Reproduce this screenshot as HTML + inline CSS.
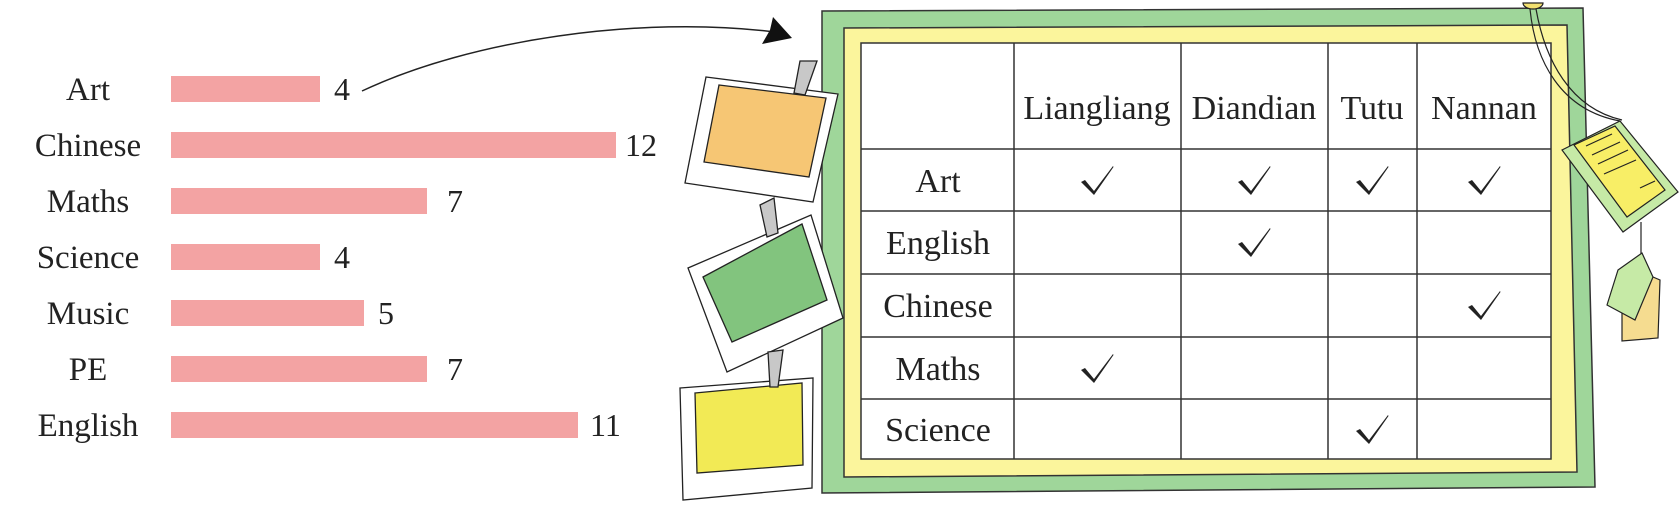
<!DOCTYPE html>
<html><head><meta charset="utf-8"><style>
html,body{margin:0;padding:0;background:#fff;}
svg{display:block;}
text{font-family:"Liberation Serif",serif;fill:#222;}
</style></head><body>
<svg width="1679" height="507" viewBox="0 0 1679 507" xmlns="http://www.w3.org/2000/svg">
<!-- bar chart -->
<g fill="#f3a3a3">
<rect x="171" y="76" width="149" height="26"/>
<rect x="171" y="132" width="445" height="26"/>
<rect x="171" y="188" width="256" height="26"/>
<rect x="171" y="244" width="149" height="26"/>
<rect x="171" y="300" width="193" height="26"/>
<rect x="171" y="356" width="256" height="26"/>
<rect x="171" y="412" width="407" height="26"/>
</g>
<g font-size="33" text-anchor="middle">
<text x="88" y="100">Art</text>
<text x="88" y="156">Chinese</text>
<text x="88" y="212">Maths</text>
<text x="88" y="268">Science</text>
<text x="88" y="324">Music</text>
<text x="88" y="380">PE</text>
<text x="88" y="436">English</text>
</g>
<g font-size="32">
<text x="334" y="100">4</text>
<text x="625" y="156">12</text>
<text x="447" y="212">7</text>
<text x="334" y="268">4</text>
<text x="378" y="324">5</text>
<text x="447" y="380">7</text>
<text x="590" y="436">11</text>
</g>
<!-- arrow -->
<path d="M362,91 C470,40 640,15 775,32" fill="none" stroke="#222" stroke-width="1.5"/>
<polygon points="792,38 762,44 770,30 773,17" fill="#111"/>
<!-- frame -->
<polygon points="822,11 1583,8 1595,487 822,493" fill="#9fd69a" stroke="#333" stroke-width="1.5"/>
<polygon points="844,28 1567,25 1577,472 844,477" fill="#fbf59c" stroke="#333" stroke-width="1.5"/>
<rect x="861" y="43" width="690" height="416" fill="#fff" stroke="#333" stroke-width="1.5"/>
<g stroke="#333" stroke-width="1.5">
<line x1="861" y1="149" x2="1551" y2="149"/>
<line x1="861" y1="211" x2="1551" y2="211"/>
<line x1="861" y1="274" x2="1551" y2="274"/>
<line x1="861" y1="337" x2="1551" y2="337"/>
<line x1="861" y1="399" x2="1551" y2="399"/>
<line x1="1014" y1="43" x2="1014" y2="459"/>
<line x1="1181" y1="43" x2="1181" y2="459"/>
<line x1="1328" y1="43" x2="1328" y2="459"/>
<line x1="1417" y1="43" x2="1417" y2="459"/>
</g>
<g font-size="34" text-anchor="middle">
<text x="1097" y="119">Liangliang</text>
<text x="1254" y="119">Diandian</text>
<text x="1372" y="119">Tutu</text>
<text x="1484" y="119">Nannan</text>
<text x="938" y="192">Art</text>
<text x="938" y="254">English</text>
<text x="938" y="317">Chinese</text>
<text x="938" y="380">Maths</text>
<text x="938" y="441">Science</text>
</g>
<defs><path id="ck" d="M-16,1 L-12,-1 L-3,10 L16,-15 L16.5,-14 L-3,14 Z" fill="#222"/></defs>
<use href="#ck" x="1097" y="181"/>
<use href="#ck" x="1254" y="181"/>
<use href="#ck" x="1372" y="181"/>
<use href="#ck" x="1484" y="181"/>
<use href="#ck" x="1254" y="243"/>
<use href="#ck" x="1484" y="306"/>
<use href="#ck" x="1097" y="369"/>
<use href="#ck" x="1372" y="430"/>
<!-- photos -->
<g stroke="#222" stroke-width="1.3">
<polygon points="706,77 838,94 813,202 685,183" fill="#fff"/>
<polygon points="719,85 826,98 809,177 704,162" fill="#f6c674"/>
<polygon points="800,61 817,61 805,95 794,93" fill="#c8c8c8"/>
<polygon points="688,268 811,215 843,318 727,372" fill="#fff"/>
<polygon points="703,277 802,224 827,300 732,342" fill="#82c47e"/>
<polygon points="760,205 774,198 778,233 767,237" fill="#c8c8c8"/>
<polygon points="680,388 813,378 812,488 683,500" fill="#fff"/>
<polygon points="695,393 802,383 803,465 697,473" fill="#f2ea55"/>
<polygon points="768,352 783,350 778,387 770,387" fill="#c8c8c8"/>
</g>
<!-- hanging tag -->
<g stroke="#222" stroke-width="1.2">
<path d="M1523,3 L1543,3 A10,6 0 0 1 1523,3 Z" fill="#f2e070"/>
<path d="M1530,9 C1535,60 1560,110 1620,121" fill="none"/>
<path d="M1536,9 C1545,60 1570,108 1622,120" fill="none"/>
<polygon points="1562,150 1620,121 1678,192 1623,232" fill="#c6eaa6"/>
<polygon points="1574,145 1615,126 1665,190 1627,217" fill="#f8ee66"/>
<line x1="1586" y1="146" x2="1612" y2="134"/>
<line x1="1592" y1="155" x2="1620" y2="142"/>
<line x1="1598" y1="164" x2="1628" y2="150"/>
<line x1="1604" y1="174" x2="1636" y2="160"/>
<line x1="1640" y1="188" x2="1655" y2="181"/>
<line x1="1641" y1="222" x2="1641" y2="255"/>
<polygon points="1622,293 1653,277 1660,280 1658,338 1622,341" fill="#f5dc90"/>
<polygon points="1607,305 1618,270 1642,253 1653,277 1635,320" fill="#c6eaa6"/>
</g>
</svg>
</body></html>
